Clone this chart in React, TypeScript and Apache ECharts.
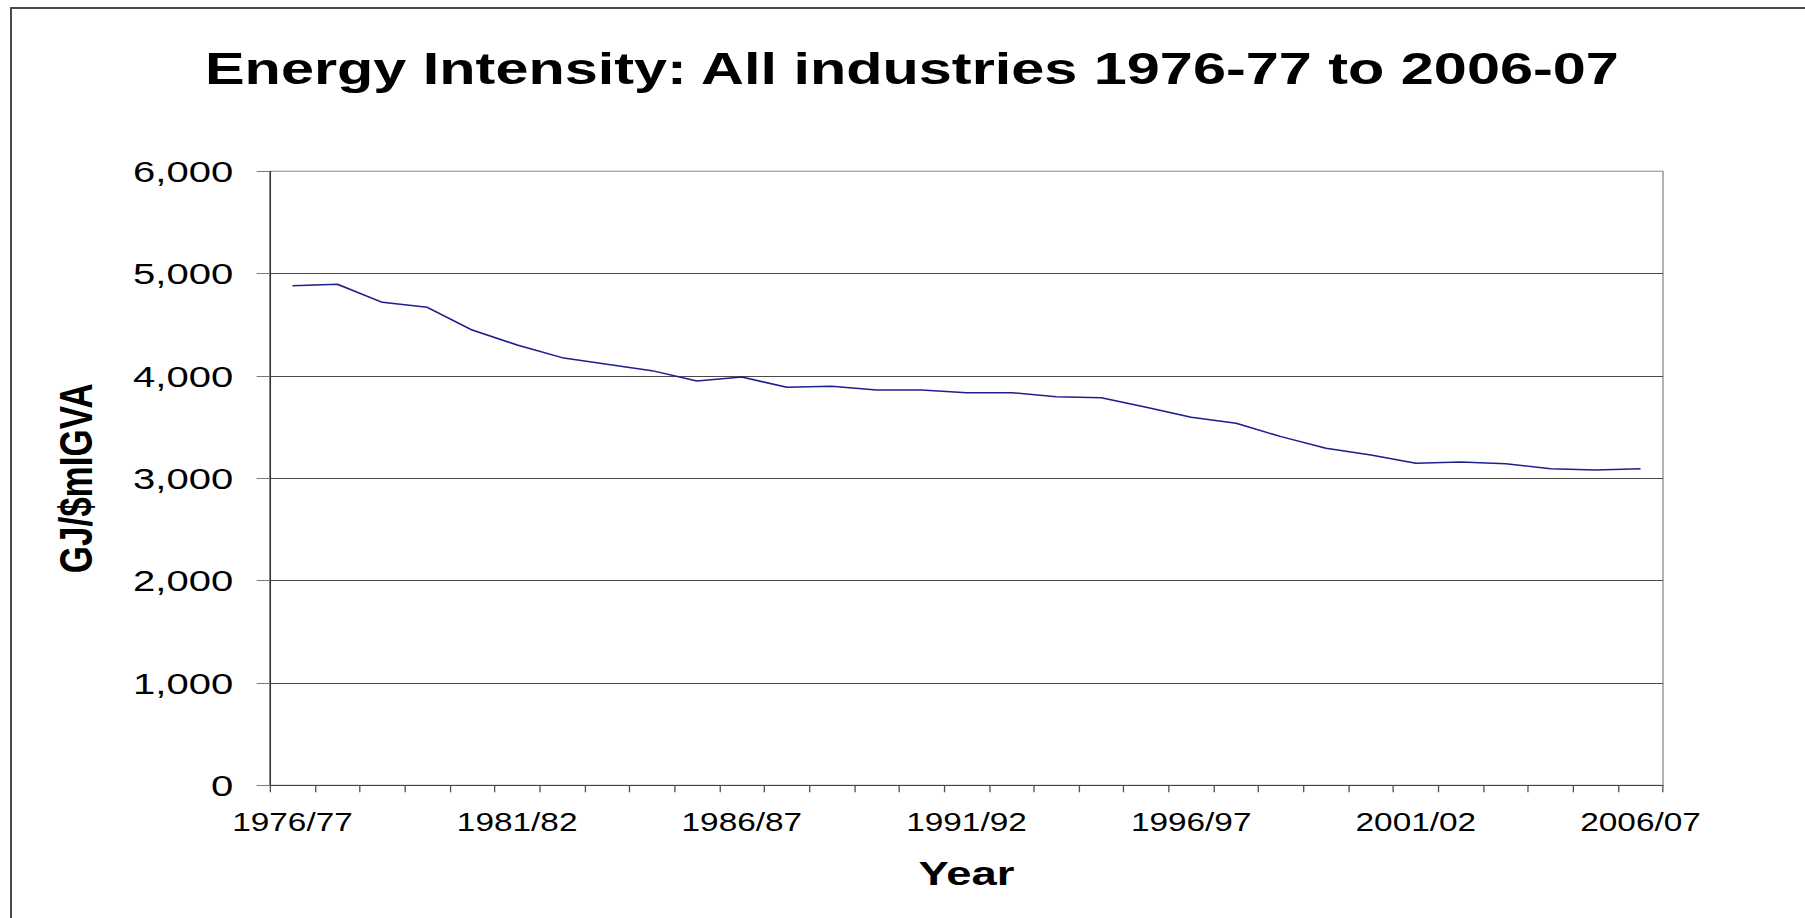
import { useEffect, useRef } from 'react';
import * as echarts from 'echarts';

// ---- data ----
const years: string[] = [
  '1976/77', '1977/78', '1978/79', '1979/80', '1980/81',
  '1981/82', '1982/83', '1983/84', '1984/85', '1985/86',
  '1986/87', '1987/88', '1988/89', '1989/90', '1990/91',
  '1991/92', '1992/93', '1993/94', '1994/95', '1995/96',
  '1996/97', '1997/98', '1998/99', '1999/00', '2000/01',
  '2001/02', '2002/03', '2003/04', '2004/05', '2005/06',
  '2006/07',
];

const intensity: number[] = [
  4882, 4896, 4720, 4671, 4449,
  4303, 4179, 4114, 4052, 3951,
  3990, 3889, 3899, 3863, 3863,
  3837, 3837, 3798, 3788, 3694,
  3596, 3538, 3407, 3293, 3228,
  3147, 3159, 3143, 3094, 3081,
  3094,
];

const yMin = 0;
const yMax = 6000;
const yStep = 1000;

const titleText = 'Energy Intensity: All industries 1976-77 to 2006-07';
const xAxisName = 'Year';
const yAxisName = 'GJ/$mIGVA';

// ---- layout ----
const PAGE_W = 1805;
const PAGE_H = 918;
const CHART_W = 1352;
const SX = PAGE_W / CHART_W; // reference is horizontally stretched
const FONT = '"Liberation Sans", Arial, Helvetica, sans-serif';

const fmt = (v: number) => String(v).replace(/\B(?=(\d{3})+(?!\d))/g, ',');

export default function App() {
  const ref = useRef<HTMLDivElement>(null);

  useEffect(() => {
    if (!ref.current) return;
    const chart = echarts.init(ref.current, null, { renderer: 'svg' });
    chart.setOption({
      animation: false,
      backgroundColor: '#ffffff',
      title: {
        text: titleText,
        left: 205 / SX,
        top: 46,
        padding: 0,
        textStyle: {
          fontFamily: FONT,
          fontSize: 44.5,
          fontWeight: 'bold',
          color: '#000000',
        },
      },
      grid: {
        left: 270 / SX,
        right: CHART_W - 1663 / SX,
        top: 171.3,
        bottom: PAGE_H - 785.3,
        show: true,
        borderColor: '#8c8c8c',
        borderWidth: 1,
        backgroundColor: 'transparent',
      },
      xAxis: {
        type: 'category',
        data: years,
        boundaryGap: true,
        name: xAxisName,
        nameLocation: 'middle',
        nameGap: 88,
        nameTextStyle: {
          fontFamily: FONT,
          fontSize: 34,
          fontWeight: 'bold',
          color: '#000000',
          verticalAlign: 'middle',
        },
        axisLine: { show: true, lineStyle: { color: '#444444', width: 1 } },
        axisTick: {
          show: true,
          inside: false,
          length: 7,
          interval: 0,
          alignWithLabel: false,
          lineStyle: { color: '#555555', width: 1 },
        },
        axisLabel: {
          interval: 4,
          margin: 24,
          fontFamily: FONT,
          fontSize: 25,
          color: '#000000',
        },
        splitLine: { show: false },
      },
      yAxis: {
        type: 'value',
        min: yMin,
        max: yMax,
        interval: yStep,
        name: yAxisName,
        nameLocation: 'middle',
        nameGap: 194 / SX,
        nameTextStyle: {
          fontFamily: FONT,
          fontSize: 35,
          fontWeight: 'bold',
          color: '#000000',
          verticalAlign: 'middle',
          align: 'center',
        },
        axisLine: { show: true, lineStyle: { color: '#333333', width: 1 } },
        axisTick: { show: true, inside: false, length: 10, lineStyle: { color: '#777777', width: 1 } },
        axisLabel: {
          margin: 36.7 / SX,
          fontFamily: FONT,
          fontSize: 30,
          color: '#000000',
          formatter: (v: number) => fmt(v),
        },
        splitLine: {
          show: true,
          showMinLine: false,
          showMaxLine: false,
          lineStyle: { color: '#4a4a4a', width: 1 },
        },
      },
      series: [
        {
          type: 'line',
          data: intensity,
          symbol: 'none',
          showSymbol: false,
          lineStyle: { color: '#1f1f8f', width: 1.5 },
          itemStyle: { color: '#1f1f8f' },
        },
      ],
    });
    return () => chart.dispose();
  }, []);

  return (
    <>
      <div
        ref={ref}
        style={{
          position: 'absolute',
          left: 0,
          top: 0,
          width: CHART_W,
          height: PAGE_H,
          transform: `scaleX(${SX})`,
          transformOrigin: '0 0',
        }}
      />
      <div
        style={{
          position: 'absolute',
          left: 10,
          top: 7,
          width: PAGE_W - 10,
          height: PAGE_H - 7,
          boxSizing: 'border-box',
          borderTop: '2px solid #4a4a4a',
          borderLeft: '2px solid #4a4a4a',
          pointerEvents: 'none',
        }}
      />
    </>
  );
}
